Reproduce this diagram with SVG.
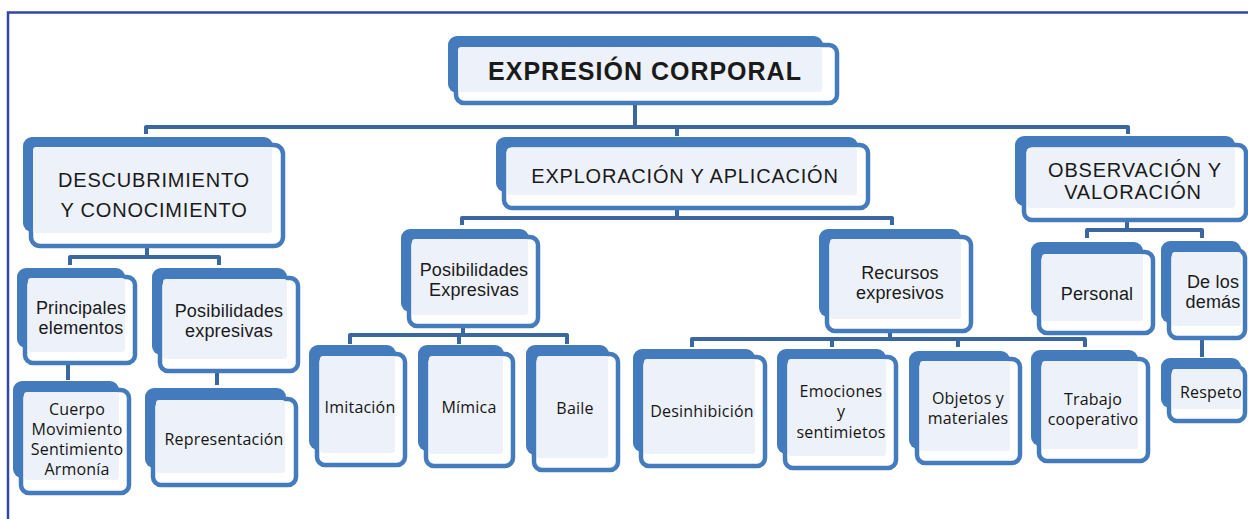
<svg xmlns="http://www.w3.org/2000/svg" width="1248" height="519" viewBox="0 0 1248 519">
<defs>
<style>
.bk{fill:#447bbd}
.fr{fill:#ffffff;stroke:#447bbd;stroke-width:4.5}
.in{fill:#edf1f9}
.con{fill:none;stroke:#3a679f;stroke-width:4;stroke-linejoin:round}
.a{font-family:"Liberation Sans",Arial,sans-serif;fill:#1a1a1a;text-anchor:middle}
.t{font-size:20px;letter-spacing:0.8px}
.m{font-size:18px;letter-spacing:0.2px}
.c{font-family:"Open Sans","Liberation Sans",sans-serif;font-size:16px;fill:#151515;text-anchor:middle;letter-spacing:0.2px}
</style>
</defs>
<rect x="0" y="0" width="1248" height="519" fill="#ffffff"/>
<path d="M8,519 V12.5 H1248" fill="none" stroke="#3347a0" stroke-width="2.5"/>

<g id="connectors">
<path class="con" d="M635,105 V127 M146,134 V127 H1128 V134 M677,127 V136"/>
<path class="con" d="M147,248 V257 M70,265 V257 H219 V265"/>
<path class="con" d="M68,365 V380"/>
<path class="con" d="M217,373 V385"/>
<path class="con" d="M677,210 V218 M462,225 V218 H892 V225"/>
<path class="con" d="M463,328 V335 M350,344 V335 H567 V344 M459,335 V344"/>
<path class="con" d="M890,333 V339 M692,347 V339 H1085 V347 M832,339 V347 M958,339 V347"/>
<path class="con" d="M1127,222 V230 M1087,238 V230 H1202 V238"/>
<path class="con" d="M1202,340 V357"/>
</g>

<g id="n-expresion">
<rect class="bk" x="448" y="36" width="375" height="57" rx="9"/>
<rect class="fr" x="456" y="45" width="381" height="58" rx="8"/>
<rect class="in" x="458" y="47" width="364" height="45" rx="3"/>
<text class="a" x="645" y="80" font-size="25" font-weight="bold" letter-spacing="1">EXPRESIÓN CORPORAL</text>
</g>

<g id="n-descubrimiento">
<rect class="bk" x="23" y="137" width="250" height="95" rx="9"/>
<rect class="fr" x="31" y="145" width="252" height="101" rx="9"/>
<rect class="in" x="33" y="147" width="239" height="86" rx="3"/>
<text class="a t" x="154" y="187">DESCUBRIMIENTO</text>
<text class="a t" x="154" y="217">Y CONOCIMIENTO</text>
</g>

<g id="n-exploracion">
<rect class="bk" x="496" y="137" width="362" height="55" rx="9"/>
<rect class="fr" x="504" y="145" width="364" height="63" rx="8"/>
<rect class="in" x="507" y="148" width="350" height="47" rx="3"/>
<text class="a t" x="685" y="183">EXPLORACIÓN Y APLICACIÓN</text>
</g>

<g id="n-observacion">
<rect class="bk" x="1015" y="136" width="220" height="70" rx="9"/>
<rect class="fr" x="1024" y="145" width="222" height="75" rx="8"/>
<rect class="in" x="1027" y="148" width="208" height="60" rx="3"/>
<text class="a t" x="1135" y="177">OBSERVACIÓN Y</text>
<text class="a t" x="1133" y="199">VALORACIÓN</text>
</g>

<g id="n-principales">
<rect class="bk" x="17" y="268" width="108" height="80" rx="9"/>
<rect class="fr" x="25" y="277" width="110" height="86" rx="8"/>
<rect class="in" x="28" y="278" width="97" height="74" rx="3"/>
<text class="a m" x="81" y="314">Principales</text>
<text class="a m" x="81" y="334">elementos</text>
</g>

<g id="n-posibilidades-izq">
<rect class="bk" x="152" y="268" width="135" height="87" rx="9"/>
<rect class="fr" x="160" y="278" width="138" height="93" rx="8"/>
<rect class="in" x="163" y="279" width="124" height="80" rx="3"/>
<text class="a m" x="229" y="317">Posibilidades</text>
<text class="a m" x="229" y="337">expresivas</text>
</g>

<g id="n-cuerpo">
<rect class="bk" x="13" y="381" width="106" height="97" rx="9"/>
<rect class="fr" x="21" y="390" width="108" height="103" rx="8"/>
<rect class="in" x="24" y="392" width="95" height="88" rx="3"/>
<text class="c" x="77" y="415">Cuerpo</text>
<text class="c" x="77" y="435">Movimiento</text>
<text class="c" x="77" y="455">Sentimiento</text>
<text class="c" x="77" y="475">Armonía</text>
</g>

<g id="n-representacion">
<rect class="bk" x="145" y="388" width="141" height="80" rx="9"/>
<rect class="fr" x="153" y="399" width="143" height="86" rx="8"/>
<rect class="in" x="156" y="400" width="129" height="73" rx="3"/>
<text class="c" x="224" y="445">Representación</text>
</g>

<g id="n-posibilidades-centro">
<rect class="bk" x="401" y="229" width="128" height="83" rx="9"/>
<rect class="fr" x="409" y="237" width="129" height="89" rx="8"/>
<rect class="in" x="412" y="239" width="116" height="76" rx="3"/>
<text class="a m" x="474" y="276">Posibilidades</text>
<text class="a m" x="474" y="296">Expresivas</text>
</g>

<g id="n-imitacion">
<rect class="bk" x="309" y="345" width="87" height="105" rx="9"/>
<rect class="fr" x="317" y="354" width="88" height="111" rx="8"/>
<rect class="in" x="320" y="356" width="75" height="97" rx="3"/>
<text class="c" x="360" y="413">Imitación</text>
</g>

<g id="n-mimica">
<rect class="bk" x="418" y="345" width="86" height="106" rx="9"/>
<rect class="fr" x="426" y="354" width="87" height="112" rx="8"/>
<rect class="in" x="429" y="356" width="74" height="98" rx="3"/>
<text class="c" x="469" y="413">Mímica</text>
</g>

<g id="n-baile">
<rect class="bk" x="526" y="345" width="83" height="110" rx="9"/>
<rect class="fr" x="534" y="354" width="84" height="116" rx="8"/>
<rect class="in" x="537" y="356" width="71" height="102" rx="3"/>
<text class="c" x="575" y="414">Baile</text>
</g>

<g id="n-recursos">
<rect class="bk" x="819" y="229" width="142" height="88" rx="9"/>
<rect class="fr" x="827" y="237" width="144" height="94" rx="8"/>
<rect class="in" x="830" y="239" width="131" height="80" rx="3"/>
<text class="a m" x="900" y="279">Recursos</text>
<text class="a m" x="900" y="299">expresivos</text>
</g>

<g id="n-desinhibicion">
<rect class="bk" x="633" y="349" width="122" height="103" rx="9"/>
<rect class="fr" x="641" y="357" width="124" height="109" rx="8"/>
<rect class="in" x="644" y="359" width="111" height="95" rx="3"/>
<text class="c" x="702" y="417">Desinhibición</text>
</g>

<g id="n-emociones">
<rect class="bk" x="777" y="349" width="109" height="105" rx="9"/>
<rect class="fr" x="785" y="357" width="111" height="111" rx="8"/>
<rect class="in" x="788" y="359" width="98" height="97" rx="3"/>
<text class="c" x="841" y="397">Emociones</text>
<text class="c" x="841" y="417">y</text>
<text class="c" x="841" y="438">sentimietos</text>
</g>

<g id="n-objetos">
<rect class="bk" x="909" y="351" width="101" height="98" rx="9"/>
<rect class="fr" x="917" y="359" width="103" height="104" rx="8"/>
<rect class="in" x="920" y="361" width="90" height="90" rx="3"/>
<text class="c" x="968" y="404">Objetos y</text>
<text class="c" x="968" y="424">materiales</text>
</g>

<g id="n-personal">
<rect class="bk" x="1031" y="242" width="112" height="75" rx="9"/>
<rect class="fr" x="1039" y="252" width="114" height="81" rx="8"/>
<rect class="in" x="1042" y="254" width="101" height="67" rx="3"/>
<text class="a m" x="1097" y="300">Personal</text>
</g>

<g id="n-demas">
<rect class="bk" x="1161" y="241" width="80" height="82" rx="9"/>
<rect class="fr" x="1169" y="250" width="76" height="88" rx="8"/>
<rect class="in" x="1172" y="252" width="69" height="74" rx="3"/>
<text class="a m" x="1213" y="288">De los</text>
<text class="a m" x="1213" y="308">demás</text>
</g>

<g id="n-trabajo">
<rect class="bk" x="1031" y="350" width="107" height="96" rx="9"/>
<rect class="fr" x="1039" y="359" width="109" height="102" rx="8"/>
<rect class="in" x="1042" y="361" width="96" height="88" rx="3"/>
<text class="c" x="1093" y="405">Trabajo</text>
<text class="c" x="1093" y="425">cooperativo</text>
</g>

<g id="n-respeto">
<rect class="bk" x="1161" y="358" width="80" height="50" rx="9"/>
<rect class="fr" x="1169" y="367" width="76" height="54" rx="8"/>
<rect class="in" x="1172" y="369" width="69" height="40" rx="3"/>
<text class="c" x="1211" y="398">Respeto</text>
</g>
</svg>
